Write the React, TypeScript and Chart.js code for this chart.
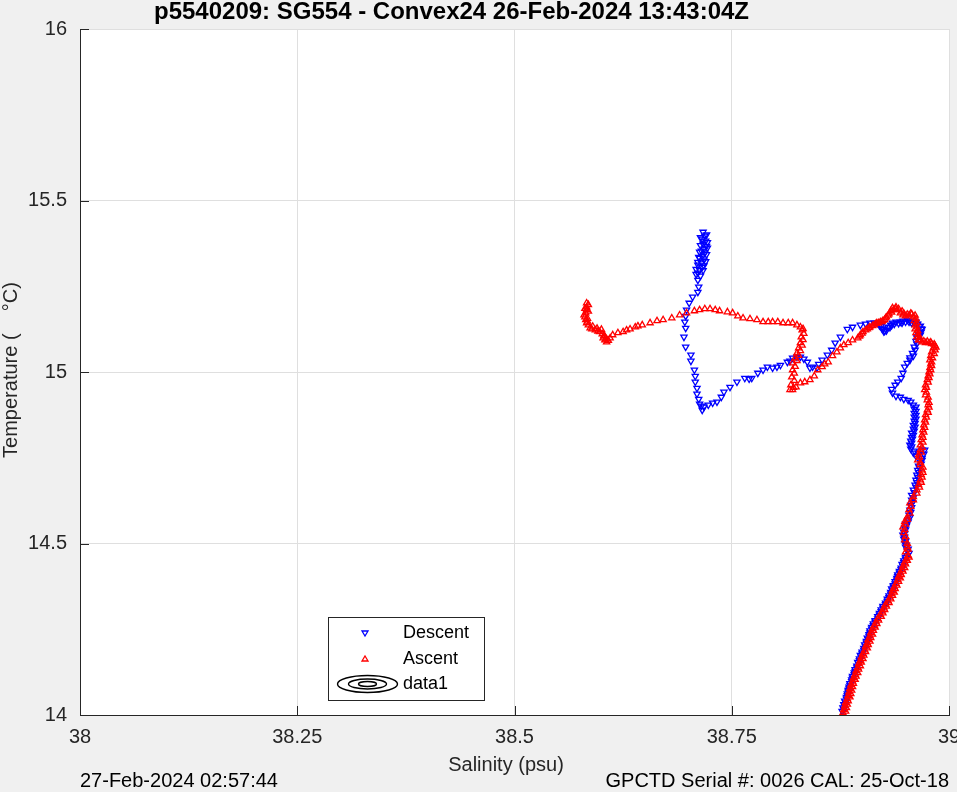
import React, { useEffect, useRef } from 'react';
import { Chart, registerables } from 'chart.js';

Chart.register(...registerables);

const titleText = 'p5540209: SG554 - Convex24 26-Feb-2024 13:43:04Z';
const xLabel = 'Salinity (psu)';
const yLabel = 'Temperature (    \u00B0C)';
const footerLeft = '27-Feb-2024 02:57:44';
const footerRight = 'GPCTD Serial #: 0026 CAL: 25-Oct-18';
const legendLabels = ['Descent', 'Ascent', 'data1'];

const xTicks = [38, 38.25, 38.5, 38.75, 39];
const yTicks = [14, 14.5, 15, 15.5, 16];

// Descent (blue) samples in profile order
const descentSalinity = [
  38.717, 38.719, 38.716, 38.720, 38.717, 38.721, 38.718, 38.715, 38.719, 38.716,
  38.713, 38.718, 38.715, 38.711, 38.716, 38.713, 38.711, 38.711, 38.712, 38.711,
  38.705, 38.701, 38.698, 38.697, 38.696, 38.697, 38.695, 38.697, 38.703, 38.703,
  38.707, 38.708, 38.708, 38.710, 38.710, 38.712, 38.713, 38.716, 38.715, 38.718,
  38.723, 38.728, 38.733, 38.738, 38.741, 38.748, 38.756, 38.765, 38.770, 38.773,
  38.780, 38.786, 38.791, 38.797, 38.802, 38.806, 38.814, 38.817, 38.820, 38.825,
  38.829, 38.833, 38.837, 38.840, 38.843, 38.848, 38.850, 38.854, 38.860, 38.865,
  38.869, 38.875, 38.883, 38.889, 38.898, 38.904, 38.909, 38.914, 38.918, 38.922,
  38.924, 38.926, 38.930, 38.933, 38.935, 38.939, 38.944, 38.947, 38.952, 38.955,
  38.959, 38.962, 38.964, 38.967, 38.969, 38.968, 38.967, 38.964, 38.963, 38.961,
  38.959, 38.955, 38.952, 38.949, 38.947, 38.945, 38.941, 38.938, 38.934, 38.935,
  38.939, 38.944, 38.948, 38.953, 38.956, 38.959, 38.960, 38.960, 38.960, 38.960,
  38.959, 38.959, 38.957, 38.957, 38.956, 38.955, 38.956, 38.959, 38.962, 38.965,
  38.969, 38.972, 38.971, 38.969, 38.967, 38.965, 38.964, 38.963, 38.962, 38.961,
  38.959, 38.957, 38.957, 38.956, 38.955, 38.954, 38.953, 38.950, 38.949, 38.948,
  38.947, 38.948, 38.949, 38.950, 38.952,
  38.952, 38.950, 38.948, 38.947, 38.945, 38.943, 38.941, 38.940, 38.938, 38.936,
  38.935, 38.933, 38.931, 38.929, 38.927, 38.924, 38.922, 38.920, 38.918, 38.915,
  38.913, 38.911, 38.909, 38.908, 38.907, 38.905, 38.904, 38.902, 38.900, 38.899,
  38.897, 38.896, 38.894, 38.892, 38.891, 38.889, 38.888, 38.886, 38.885, 38.884,
  38.883, 38.882, 38.881, 38.880, 38.879,
];
const descentTemperature = [
  15.408, 15.397, 15.388, 15.382, 15.373, 15.367, 15.359, 15.353, 15.347, 15.338,
  15.332, 15.327, 15.318, 15.312, 15.306, 15.297, 15.289, 15.268, 15.248, 15.233,
  15.219, 15.201, 15.181, 15.163, 15.146, 15.128, 15.102, 15.073, 15.050, 15.032,
  15.006, 14.988, 14.971, 14.953, 14.936, 14.921, 14.907, 14.889, 14.901, 14.898,
  14.904, 14.910, 14.913, 14.927, 14.942, 14.956, 14.971, 14.982, 14.980, 14.982,
  14.997, 15.006, 15.015, 15.012, 15.015, 15.020, 15.029, 15.032, 15.041, 15.044,
  15.044, 15.038, 15.029, 15.012, 15.015, 15.012, 15.023, 15.035, 15.050, 15.064,
  15.085, 15.102, 15.125, 15.131, 15.137, 15.140, 15.143, 15.143, 15.143, 15.134,
  15.125, 15.119, 15.131, 15.137, 15.143, 15.146, 15.146, 15.149, 15.152, 15.149,
  15.146, 15.146, 15.140, 15.134, 15.125, 15.117, 15.108, 15.099, 15.082, 15.064,
  15.047, 15.035, 15.026, 15.015, 14.997, 14.982, 14.971, 14.962, 14.950, 14.939,
  14.930, 14.927, 14.921, 14.918, 14.913, 14.904, 14.892, 14.880, 14.869, 14.857,
  14.845, 14.834, 14.822, 14.810, 14.799, 14.787, 14.776, 14.764, 14.755, 14.764,
  14.773, 14.773, 14.761, 14.749, 14.738, 14.726, 14.714, 14.700, 14.685, 14.671,
  14.656, 14.641, 14.627, 14.612, 14.598, 14.583, 14.569, 14.557, 14.545, 14.534,
  14.525, 14.513, 14.501, 14.490, 14.478,
  14.465, 14.455, 14.445, 14.434, 14.424, 14.414, 14.404, 14.394, 14.383, 14.373,
  14.363, 14.353, 14.343, 14.332, 14.322, 14.312, 14.302, 14.292, 14.281, 14.271,
  14.261, 14.251, 14.240, 14.230, 14.220, 14.210, 14.200, 14.189, 14.179, 14.169,
  14.159, 14.149, 14.138, 14.128, 14.118, 14.108, 14.098, 14.087, 14.077, 14.067,
  14.057, 14.047, 14.036, 14.026, 14.016,
];

// Additional descent samples where the trace is densely sampled (thick bands)
const descentSalinityDense = [
  // deep diagonal
  38.877, 38.878, 38.879, 38.880, 38.882, 38.883, 38.884, 38.885, 38.886, 38.888,
  38.889, 38.891, 38.892, 38.894, 38.895, 38.897, 38.898, 38.900, 38.902, 38.903,
  38.905, 38.906, 38.908, 38.909, 38.911, 38.913, 38.915, 38.918, 38.920, 38.922,
  38.924, 38.927, 38.929, 38.931, 38.933, 38.934, 38.936, 38.938, 38.940, 38.941,
  38.943, 38.945, 38.946, 38.948, 38.950,
  // right-hand vertical band
  38.962, 38.962, 38.962, 38.962, 38.961, 38.961, 38.960, 38.959, 38.958, 38.957,
  38.957, 38.960,
  38.969, 38.968, 38.966, 38.965, 38.964, 38.963, 38.962, 38.960, 38.959, 38.958,
  38.957, 38.956, 38.955, 38.953, 38.951, 38.950, 38.949, 38.949, 38.950, 38.951,
  38.953, 38.954,
  // upper right hook
  38.920, 38.923, 38.925, 38.928, 38.932, 38.934, 38.937, 38.942, 38.946, 38.950,
  38.954, 38.957, 38.961, 38.963, 38.966, 38.968, 38.966, 38.965, 38.963, 38.962,
  38.960, 38.958, 38.955,
  // near-surface cluster
  38.721, 38.714, 38.722, 38.714, 38.722, 38.713, 38.721, 38.712, 38.720, 38.711,
  38.718, 38.709, 38.717, 38.709, 38.714,
];
const descentTemperatureDense = [
  14.011, 14.021, 14.031, 14.041, 14.052, 14.062, 14.072, 14.082, 14.092, 14.103,
  14.113, 14.123, 14.133, 14.143, 14.154, 14.164, 14.174, 14.184, 14.195, 14.205,
  14.215, 14.225, 14.235, 14.246, 14.256, 14.266, 14.276, 14.287, 14.297, 14.307,
  14.317, 14.327, 14.338, 14.348, 14.358, 14.368, 14.378, 14.389, 14.399, 14.409,
  14.419, 14.429, 14.440, 14.450, 14.460,
  14.898, 14.886, 14.874, 14.863, 14.851, 14.840, 14.828, 14.816, 14.805, 14.793,
  14.782, 14.770,
  14.743, 14.732, 14.720, 14.707, 14.693, 14.678, 14.664, 14.649, 14.634, 14.620,
  14.605, 14.591, 14.576, 14.563, 14.551, 14.540, 14.530, 14.519, 14.507, 14.496,
  14.484, 14.472,
  15.135, 15.126, 15.118, 15.121, 15.130, 15.136, 15.140, 15.142, 15.143, 15.146,
  15.146, 15.143, 15.142, 15.139, 15.133, 15.126, 15.117, 15.109, 15.100, 15.090,
  15.073, 15.055, 15.042,
  15.400, 15.392, 15.378, 15.369, 15.362, 15.350, 15.343, 15.335, 15.322, 15.320,
  15.310, 15.300, 15.296, 15.285, 15.280,
];

// Ascent (red) samples in profile order (deep to surface)
const ascentSalinity = [
  38.878, 38.879, 38.880, 38.881, 38.883, 38.884, 38.885, 38.886, 38.887, 38.889,
  38.890, 38.892, 38.893, 38.895, 38.896, 38.898, 38.899, 38.901, 38.903, 38.904,
  38.906, 38.907, 38.909, 38.910, 38.912, 38.914, 38.916, 38.918, 38.921, 38.923,
  38.925, 38.927, 38.930, 38.932, 38.934, 38.935, 38.937, 38.939, 38.941, 38.942,
  38.944, 38.946, 38.947, 38.949, 38.951, 38.953,
  38.950, 38.952, 38.949, 38.948, 38.947, 38.949, 38.952, 38.954, 38.955, 38.959,
  38.963, 38.965, 38.967, 38.968, 38.969, 38.967, 38.964, 38.965, 38.967, 38.967,
  38.968, 38.969, 38.970, 38.971, 38.972, 38.973, 38.975, 38.976, 38.975, 38.973,
  38.972, 38.973, 38.975, 38.976, 38.977, 38.978, 38.979, 38.978, 38.979, 38.980,
  38.982, 38.984, 38.980, 38.977, 38.973, 38.969, 38.965, 38.963, 38.962, 38.961,
  38.961, 38.960, 38.959, 38.957, 38.954, 38.950, 38.947, 38.944, 38.940, 38.938,
  38.935, 38.933, 38.931, 38.928, 38.926, 38.923, 38.919, 38.917, 38.914, 38.909,
  38.906, 38.901, 38.898, 38.895, 38.889, 38.884, 38.879, 38.875, 38.871, 38.866,
  38.861, 38.857, 38.854, 38.849, 38.845, 38.840, 38.834, 38.829, 38.824, 38.820,
  38.817, 38.818, 38.819, 38.820, 38.820, 38.823, 38.825, 38.827, 38.829, 38.830,
  38.831, 38.829, 38.825, 38.820, 38.815, 38.809, 38.803, 38.797, 38.792, 38.786,
  38.779, 38.771, 38.763, 38.757, 38.751, 38.745, 38.736, 38.731, 38.725, 38.719,
  38.713, 38.707, 38.698, 38.690, 38.681, 38.671, 38.664, 38.656, 38.647, 38.642,
  38.639, 38.633, 38.629, 38.625, 38.619, 38.613, 38.610, 38.606, 38.604, 38.602,
  38.601, 38.598, 38.596, 38.593, 38.589, 38.587, 38.585, 38.583, 38.582, 38.581,
  38.582, 38.583, 38.583, 38.583,
];
const ascentTemperature = [
  14.006, 14.016, 14.026, 14.036, 14.047, 14.057, 14.067, 14.077, 14.087, 14.098,
  14.108, 14.118, 14.128, 14.138, 14.149, 14.159, 14.169, 14.179, 14.189, 14.200,
  14.210, 14.220, 14.230, 14.240, 14.251, 14.261, 14.271, 14.281, 14.292, 14.302,
  14.312, 14.322, 14.332, 14.343, 14.353, 14.363, 14.373, 14.383, 14.394, 14.404,
  14.414, 14.424, 14.434, 14.445, 14.455, 14.465,
  14.475, 14.490, 14.510, 14.531, 14.548, 14.563, 14.577, 14.598, 14.618, 14.636,
  14.656, 14.671, 14.685, 14.700, 14.714, 14.729, 14.743, 14.758, 14.773, 14.787,
  14.802, 14.816, 14.831, 14.845, 14.860, 14.875, 14.889, 14.904, 14.918, 14.933,
  14.948, 14.962, 14.977, 14.988, 15.000, 15.012, 15.023, 15.035, 15.047, 15.058,
  15.070, 15.076, 15.082, 15.085, 15.085, 15.087, 15.093, 15.102, 15.114, 15.125,
  15.137, 15.149, 15.160, 15.169, 15.166, 15.163, 15.166, 15.172, 15.181, 15.184,
  15.187, 15.178, 15.169, 15.160, 15.152, 15.146, 15.143, 15.143, 15.137, 15.131,
  15.125, 15.117, 15.108, 15.099, 15.093, 15.085, 15.079, 15.070, 15.058, 15.047,
  15.029, 15.023, 15.015, 15.006, 14.988, 14.977, 14.971, 14.968, 14.956, 14.948,
  14.948, 14.962, 14.985, 15.006, 15.026, 15.041, 15.055, 15.070, 15.085, 15.102,
  15.122, 15.131, 15.137, 15.143, 15.143, 15.143, 15.146, 15.146, 15.146, 15.146,
  15.152, 15.155, 15.157, 15.163, 15.172, 15.175, 15.178, 15.181, 15.184, 15.184,
  15.181, 15.178, 15.172, 15.166, 15.157, 15.152, 15.149, 15.143, 15.137, 15.134,
  15.131, 15.125, 15.122, 15.117, 15.114, 15.108, 15.099, 15.087, 15.093, 15.099,
  15.111, 15.117, 15.119, 15.122, 15.125, 15.128, 15.137, 15.143, 15.152, 15.160,
  15.172, 15.181, 15.189, 15.201,
];

// Additional ascent samples where the trace is densely sampled (thick bands)
const ascentSalinityDense = [
  // deep diagonal
  38.881, 38.882, 38.883, 38.884, 38.886, 38.887, 38.888, 38.889, 38.890, 38.892,
  38.893, 38.895, 38.896, 38.898, 38.899, 38.901, 38.902, 38.904, 38.906, 38.907,
  38.909, 38.910, 38.912, 38.913, 38.915, 38.917, 38.919, 38.922, 38.924, 38.926,
  38.928, 38.931, 38.933, 38.935, 38.937, 38.938, 38.940, 38.942, 38.944, 38.945,
  38.947, 38.949, 38.950, 38.952, 38.954,
  // right-hand vertical band
  38.953, 38.952, 38.950, 38.949, 38.950, 38.952, 38.955, 38.956, 38.959, 38.963,
  38.966, 38.968, 38.969, 38.970, 38.970, 38.967, 38.966, 38.968, 38.969, 38.970,
  38.970, 38.971, 38.972, 38.973, 38.974, 38.976, 38.977, 38.977, 38.976, 38.974,
  38.974, 38.976, 38.977, 38.978, 38.979, 38.980, 38.980,
  // upper right loop
  38.981, 38.983, 38.984, 38.985, 38.983, 38.979, 38.975, 38.971, 38.967, 38.966,
  38.965, 38.964, 38.963, 38.963, 38.962, 38.961, 38.956, 38.952, 38.948, 38.946,
  38.942, 38.939, 38.936, 38.934, 38.930, 38.927, 38.924, 38.921, 38.916, 38.912,
  38.908, 38.904, 38.900, 38.897,
  // mid vertical step
  38.821, 38.822, 38.822, 38.823, 38.825, 38.827, 38.829, 38.831, 38.832, 38.833,
  38.832,
  // near-surface cluster
  38.585, 38.581, 38.585, 38.580, 38.584, 38.584, 38.590, 38.595, 38.600, 38.603,
  38.606, 38.608, 38.604,
];
const ascentTemperatureDense = [
  14.011, 14.021, 14.031, 14.041, 14.052, 14.062, 14.072, 14.082, 14.092, 14.103,
  14.113, 14.123, 14.133, 14.143, 14.154, 14.164, 14.174, 14.184, 14.195, 14.205,
  14.215, 14.225, 14.235, 14.246, 14.256, 14.266, 14.276, 14.287, 14.297, 14.307,
  14.317, 14.327, 14.338, 14.348, 14.358, 14.368, 14.378, 14.389, 14.399, 14.409,
  14.419, 14.429, 14.440, 14.450, 14.460,
  14.483, 14.500, 14.520, 14.540, 14.556, 14.570, 14.588, 14.608, 14.627, 14.646,
  14.664, 14.678, 14.693, 14.707, 14.722, 14.736, 14.751, 14.766, 14.780, 14.795,
  14.809, 14.824, 14.838, 14.853, 14.868, 14.882, 14.897, 14.911, 14.926, 14.941,
  14.955, 14.970, 14.983, 14.994, 15.006, 15.018, 15.029,
  15.041, 15.053, 15.064, 15.072, 15.081, 15.087, 15.089, 15.090, 15.094, 15.100,
  15.108, 15.120, 15.131, 15.143, 15.155, 15.165, 15.171, 15.168, 15.171, 15.177,
  15.184, 15.189, 15.181, 15.174, 15.165, 15.157, 15.150, 15.146, 15.141, 15.135,
  15.129, 15.122, 15.113, 15.104,
  14.955, 14.975, 14.996, 15.016, 15.033, 15.048, 15.062, 15.078, 15.094, 15.112,
  15.126,
  15.196, 15.185, 15.177, 15.166, 15.156, 15.148, 15.133, 15.127, 15.124, 15.106,
  15.096, 15.092, 15.104,
];

const toPoints = (xs: number[], ys: number[]) => xs.map((x, i) => ({ x, y: ys[i] }));

const AXIS_COLOR = '#262626';
const GRID_COLOR = '#dfdfdf';
const FONT = '"Liberation Sans", Arial, Helvetica, sans-serif';

const overlayPlugin = {
  id: 'overlay',
  beforeDraw(chart: any) {
    const { ctx, chartArea: a } = chart;
    ctx.save();
    ctx.fillStyle = '#ffffff';
    ctx.fillRect(a.left, a.top, a.right - a.left, a.bottom - a.top);
    ctx.restore();
  },
  afterDraw(chart: any) {
    const { ctx, chartArea: a, scales } = chart;
    const xs = scales.x;
    const ys = scales.y;
    ctx.save();
    // inward tick marks
    ctx.strokeStyle = AXIS_COLOR;
    ctx.lineWidth = 1;
    ctx.beginPath();
    xTicks.forEach((v) => {
      const px = Math.round(xs.getPixelForValue(v)) + 0.5;
      ctx.moveTo(px, a.bottom);
      ctx.lineTo(px, a.bottom - 9);
    });
    yTicks.forEach((v) => {
      const py = Math.round(ys.getPixelForValue(v)) + 0.5;
      ctx.moveTo(a.left, py);
      ctx.lineTo(a.left + 9, py);
    });
    ctx.stroke();

    // tick labels
    ctx.fillStyle = AXIS_COLOR;
    ctx.font = `20px ${FONT}`;
    ctx.textBaseline = 'middle';
    ctx.textAlign = 'center';
    xTicks.forEach((v) => ctx.fillText(String(v), xs.getPixelForValue(v), a.bottom + 22));
    ctx.textAlign = 'right';
    yTicks.forEach((v) => ctx.fillText(String(v), a.left - 13, ys.getPixelForValue(v)));

    // axis labels
    ctx.textAlign = 'center';
    ctx.fillText(xLabel, 506, a.bottom + 50);
    ctx.save();
    ctx.translate(11, 370);
    ctx.rotate(-Math.PI / 2);
    ctx.fillText(yLabel, 0, 0);
    ctx.restore();

    // title
    ctx.fillStyle = '#000000';
    ctx.font = `bold 24px ${FONT}`;
    ctx.textAlign = 'left';
    ctx.fillText(titleText, 154, 12);

    // footer
    ctx.font = `20px ${FONT}`;
    ctx.fillText(footerLeft, 80, 781);
    ctx.textAlign = 'right';
    ctx.fillText(footerRight, 949, 781);

    // legend
    const lx = 328.5, ly = 617.5, lw = 156, lh = 83;
    ctx.fillStyle = '#ffffff';
    ctx.fillRect(lx, ly, lw, lh);
    ctx.strokeStyle = AXIS_COLOR;
    ctx.lineWidth = 1;
    ctx.strokeRect(lx, ly, lw, lh);
    const rows = [633, 659, 684];
    ctx.lineWidth = 1.3;
    ctx.strokeStyle = '#0000ff';
    ctx.beginPath();
    ctx.moveTo(362, 631);
    ctx.lineTo(368, 631);
    ctx.lineTo(365, 636);
    ctx.closePath();
    ctx.stroke();
    ctx.strokeStyle = '#ff0000';
    ctx.beginPath();
    ctx.moveTo(362, 661);
    ctx.lineTo(368, 661);
    ctx.lineTo(365, 656);
    ctx.closePath();
    ctx.stroke();
    ctx.strokeStyle = '#000000';
    ctx.lineWidth = 1.4;
    [[30, 8.5], [19, 5], [9, 2.5]].forEach(([rx, ry]) => {
      ctx.beginPath();
      ctx.ellipse(367.5, 684, rx, ry, 0, 0, Math.PI * 2);
      ctx.stroke();
    });
    ctx.fillStyle = '#000000';
    ctx.font = `18px ${FONT}`;
    ctx.textAlign = 'left';
    ctx.textBaseline = 'middle';
    legendLabels.forEach((t, i) => ctx.fillText(t, 403, rows[i]));
    ctx.restore();
  },
};

export default function App() {
  const ref = useRef<HTMLCanvasElement | null>(null);
  useEffect(() => {
    document.body.style.margin = '0';
    const canvas = ref.current;
    if (!canvas) return;
    const markerCommon = {
      pointStyle: 'triangle',
      radius: 3.6,
      backgroundColor: 'rgba(0,0,0,0)',
      borderWidth: 1.3,
    };
    const chart = new Chart(canvas, {
      type: 'scatter',
      data: {
        datasets: [
          {
            ...markerCommon,
            label: legendLabels[0],
            data: toPoints(
              [...descentSalinity, ...descentSalinityDense],
              [...descentTemperature, ...descentTemperatureDense],
            ),
            rotation: 180,
            borderColor: '#0000ff',
            order: 1,
          },
          {
            ...markerCommon,
            label: legendLabels[1],
            data: toPoints(
              [...ascentSalinity, ...ascentSalinityDense],
              [...ascentTemperature, ...ascentTemperatureDense],
            ),
            borderColor: '#ff0000',
            order: 0,
          },
        ],
      },
      options: {
        responsive: false,
        animation: false,
        devicePixelRatio: 1,
        events: [],
        layout: { padding: { left: 80, top: 29, right: 8, bottom: 77 } },
        plugins: {
          legend: { display: false },
          tooltip: { enabled: false },
          title: { display: false },
        },
        scales: {
          x: {
            type: 'linear',
            min: 38,
            max: 39,
            afterBuildTicks: (s: any) => {
              s.ticks = xTicks.map((value) => ({ value }));
            },
            afterFit: (s: any) => {
              s.height = 0;
            },
            ticks: { display: false },
            grid: { color: GRID_COLOR, drawTicks: false, lineWidth: 1 },
            border: { display: true, color: AXIS_COLOR, width: 1 },
          },
          y: {
            type: 'linear',
            min: 14,
            max: 16,
            afterBuildTicks: (s: any) => {
              s.ticks = yTicks.map((value) => ({ value }));
            },
            afterFit: (s: any) => {
              s.width = 0;
            },
            ticks: { display: false },
            grid: { color: GRID_COLOR, drawTicks: false, lineWidth: 1 },
            border: { display: true, color: AXIS_COLOR, width: 1 },
          },
        },
      },
      plugins: [overlayPlugin],
    } as any);
    return () => chart.destroy();
  }, []);
  return (
    <div style={{ width: 957, height: 792, background: '#f0f0f0', position: 'relative' }}>
      <canvas ref={ref} width={957} height={792} style={{ display: 'block', width: 957, height: 792 }} />
    </div>
  );
}
